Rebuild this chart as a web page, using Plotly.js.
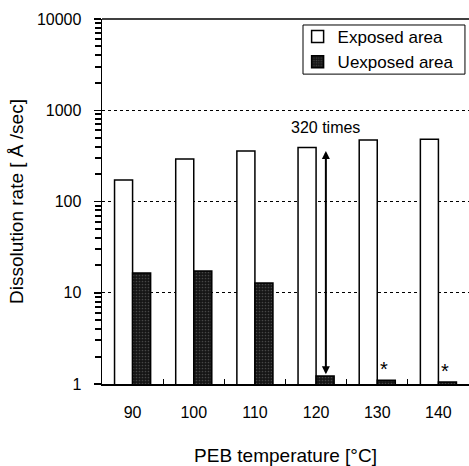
<!DOCTYPE html>
<html>
<head>
<meta charset="utf-8">
<script src="https://cdn.plot.ly/plotly-3.0.1.min.js"></script>
<style>html,body{margin:0;padding:0;background:#fff;}#chart{width:469px;height:466px;}</style>
</head>
<body>
<div id="chart"></div>
<script>
const categories = ["90", "100", "110", "120", "130", "140"];
const exposed = [172, 292, 358, 390, 472, 480];
const unexposed = [16.5, 17.3, 12.8, 1.22, 1.1, 1.05];
const ratioLabel = "320 times";
const starIdx = [4, 5];

const FONT = "Liberation Sans, Arial, sans-serif";

const traces = [
  {
    type: "bar", name: "Exposed area", x: categories, y: exposed,
    marker: {color: "#ffffff", line: {color: "#000", width: 1.5}}
  },
  {
    type: "bar", name: "Uexposed area", x: categories, y: unexposed,
    marker: {color: "#151515", line: {color: "#000", width: 1.5},
      pattern: {shape: ".", fillmode: "overlay", fgcolor: "#777", size: 3, solidity: 0.25}}
  }
];

const annotations = [
  {
    x: 3.16, y: Math.log10(unexposed[3]) + 0.02, xref: "x", yref: "y",
    ax: 3.16, ay: Math.log10(exposed[3]) - 0.02, axref: "x", ayref: "y",
    showarrow: true, arrowhead: 2, startarrowhead: 2, arrowside: "end+start",
    arrowwidth: 2, arrowsize: 0.8, arrowcolor: "#000", text: ""
  },
  {
    x: 3.15, y: Math.log10(exposed[3]) + 0.22, xref: "x", yref: "y",
    text: ratioLabel, showarrow: false, font: {family: FONT, size: 16, color: "#000"}
  }
];
starIdx.forEach(i => annotations.push({
  x: i + 0.11, y: Math.log10(unexposed[i]) + 0.12, xref: "x", yref: "y",
  text: "*", showarrow: false, font: {family: FONT, size: 20, color: "#000"}
}));

const layout = {
  width: 469, height: 466,
  margin: {l: 102, r: 0, t: 19, b: 82},
  paper_bgcolor: "#fff", plot_bgcolor: "#fff",
  font: {family: FONT, size: 16, color: "#000"},
  barmode: "group", bargap: 0.41, bargroupgap: 0,
  showlegend: true,
  legend: {
    x: 0.533, xanchor: "left", y: 1.0, yanchor: "top",
    bgcolor: "rgba(0,0,0,0)", borderwidth: 0,
    itemwidth: 30,
    font: {family: FONT, size: 17, color: "#000"},
    tracegroupgap: 0
  },
  xaxis: {
    type: "category",
    showline: true, linecolor: "#000", linewidth: 1.5,
    ticks: "inside", ticklen: 5, tickcolor: "#000", tickwidth: 1,
    tickson: "boundaries", ticklabelstandoff: 13,
    showgrid: false, zeroline: false,
    tickfont: {family: FONT, size: 16, color: "#000"},
    title: {text: "PEB temperature [°C]", font: {family: FONT, size: 19, color: "#000"}, standoff: 31}
  },
  yaxis: {
    type: "log", range: [0, 4],
    tickmode: "linear", tick0: 0, dtick: 1, tickformat: "d",
    ticksuffix: "\u00a0\u00a0",
    showline: true, linecolor: "#000", linewidth: 1.5,
    ticks: "outside", ticklen: 7, tickcolor: "#000", tickwidth: 1.5,
    minor: {ticks: "outside", ticklen: 6, tickcolor: "#000", tickwidth: 2, dtick: "D1"},
    showgrid: true, gridcolor: "#000", griddash: "dot", gridwidth: 1.2,
    zeroline: false,
    tickfont: {family: FONT, size: 16, color: "#000"},
    title: {text: "Dissolution rate [ Å /sec]", font: {family: FONT, size: 19, color: "#000"}, standoff: 8}
  },
  shapes: [
    {type: "line", xref: "paper", yref: "paper", x0: 0, x1: 1, y0: 1, y1: 1, line: {color: "#000", width: 1.5}},
    {type: "line", xref: "paper", yref: "paper", x0: -0.02, x1: 0, y0: 0, y1: 0, line: {color: "#000", width: 1.5}},
    {type: "rect", xref: "paper", yref: "paper", x0: 0.5477, x1: 0.989, y0: 0.849, y1: 0.9836,
      fillcolor: "#fff", line: {color: "#000", width: 1}, layer: "above"}
  ],
  annotations: annotations
};

Plotly.newPlot("chart", traces, layout, {displayModeBar: false, staticPlot: true});
</script>
</body>
</html>
